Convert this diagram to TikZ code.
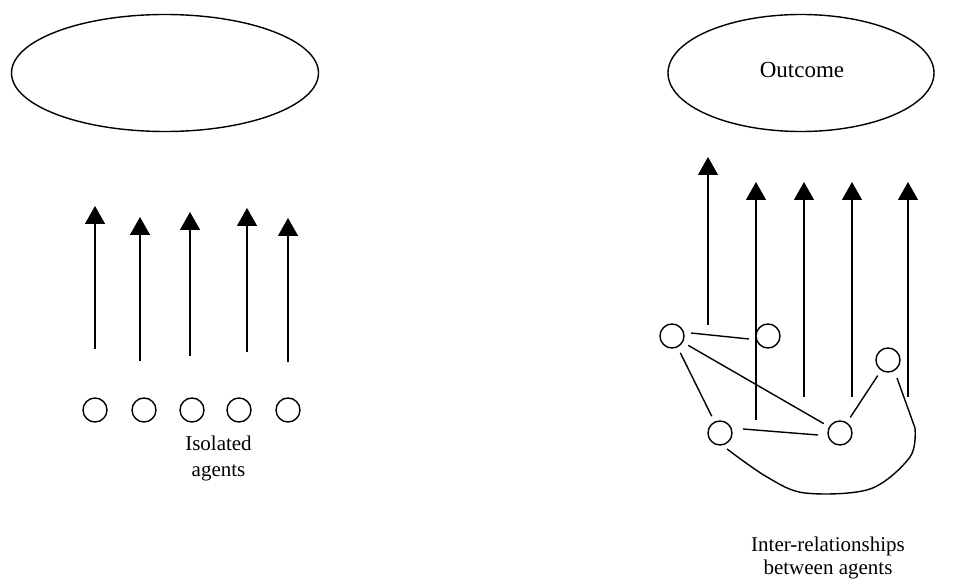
\documentclass[tikz,border=0pt]{standalone}
\usepackage{fontspec}
\setmainfont{Liberation Serif}
\usetikzlibrary{arrows.meta,shapes.geometric}
\begin{document}
\begin{tikzpicture}[x=1pt,y=-1pt,
  line width=1.4pt,
  goal/.style={draw,ellipse,inner sep=0pt,minimum height=117pt},
  agent/.style={draw,circle,inner sep=0pt,minimum size=24pt},
  up/.style={-{Triangle[width=20pt,length=18pt]}},
  tie/.style={shorten <=6pt,shorten >=6pt},
  lbl/.style={font=\fontsize{21}{25}\selectfont,anchor=base,inner sep=0pt}]
\useasboundingbox (0,0) rectangle (962,585);
% left panel
\node[goal,minimum width=307pt] (E1) at (165,73) {};
\foreach \i/\x in {1/95,2/144,3/192,4/239,5/288}
  \node[agent] (L\i) at (\x,410) {};
\foreach \i/\x/\b/\t in {1/95/349/206,2/140/361/217,3/190/356/212,4/247/352/208,5/288/362/218}{
  \coordinate (lb\i) at (\x,\b);
  \coordinate (lt\i) at (\x,\t);
  \draw[up] (lb\i) -- (lt\i);
}
\node[lbl] (iso1) at (218.5,450) {Isolated};
\node[lbl] (iso2) at (218.5,476) {agents};
% right panel
\node[goal,minimum width=266pt] (E2) at (801,73) {};
\node[lbl,font=\fontsize{23}{27}\selectfont] (out) at (802,77.5) {Outcome};
\node[agent] (A) at (672,336) {};
\node[agent] (B) at (768,336) {};
\node[agent] (C) at (888,360) {};
\node[agent] (D) at (720,433) {};
\node[agent] (E) at (840,433) {};
\foreach \i/\x/\b/\t in {1/708/325/157,2/756/420/182,3/804/397/182,4/852/397/182,5/908/397/182}{
  \coordinate (rb\i) at (\x,\b);
  \coordinate (rt\i) at (\x,\t);
  \draw[up] (rb\i) -- (rt\i);
}
\draw ([shift={(19,-3)}]A.center) -- ([shift={(-19,3)}]B.center);
\draw[tie] (A) -- (D);
\draw[tie] (A) -- (E);
\draw ([shift={(23,-4)}]D.center) -- ([shift={(-22,2)}]E.center);
\draw[tie] (E) -- (C);
\coordinate (c0) at (727,449);
\coordinate (c1) at (897,378);
\draw[line join=round] plot[smooth,tension=0.55] coordinates {(c0) (767,477) (805,493) (870,489) (910,457) (915,428)} -- (c1);
\node[lbl] (inter1) at (828,551) {Inter-relationships};
\node[lbl] (inter2) at (828,574) {between agents};
\end{tikzpicture}
\end{document}
